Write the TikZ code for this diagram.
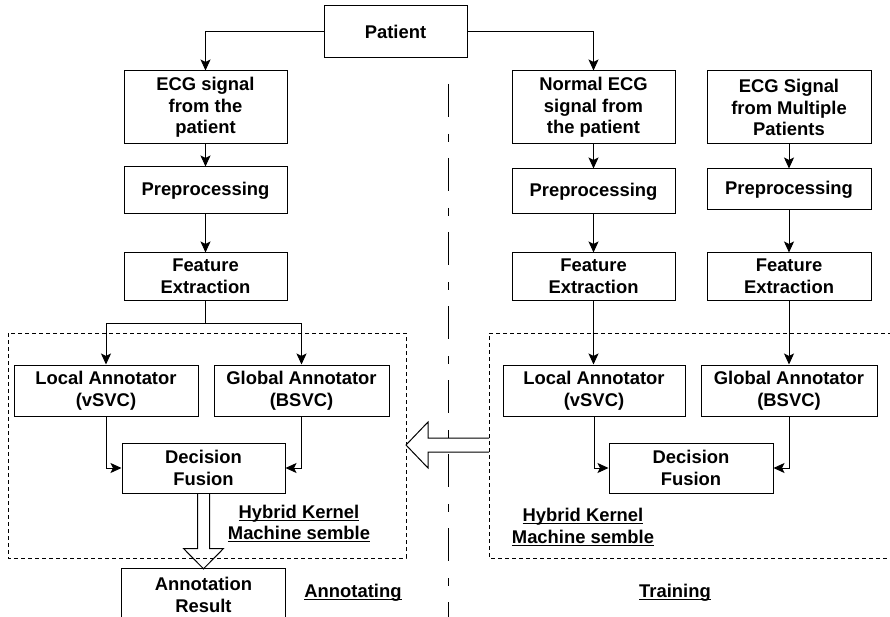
\documentclass[tikz,border=0pt]{standalone}
\usepackage{fontspec}
\setmainfont{Liberation Sans}
\usetikzlibrary{arrows.meta,calc}
% underline placed just under the baseline
\newcommand\ulabel[1]{\setbox0\hbox{#1}\rlap{\rule[-2.6pt]{\wd0}{1pt}}\box0}
\begin{document}
\begin{tikzpicture}[x=1pt,y=-1pt,
  font=\bfseries\fontsize{18.4}{21.7}\selectfont,
  box/.style={draw,line width=1pt,align=center,inner sep=0pt},
  lbl/.style={align=center,inner sep=0pt},
  conn/.style={line width=1pt,-{Stealth[length=11pt,width=10pt,inset=2.5pt]}},
  plain/.style={line width=1pt},
  groupbox/.style={line width=0.9pt,dash pattern=on 4pt off 3pt},
  hollow/.style={line width=1pt,line join=miter}]
\useasboundingbox (0,0) rectangle (890,617);

% ---- annotating branch ----
\node[box,minimum width=143,minimum height=52] (patient) at (395.5,32) {Patient};
\node[box,minimum width=163,minimum height=73] (ecg) at (205.5,107.5) {ECG signal\\from the\\patient};
\node[box,minimum width=163,minimum height=47] (pre) at (205.5,190.5) {Preprocessing};
\node[box,minimum width=163,minimum height=47] (fe) at (205.5,276.5) {Feature\\Extraction};
\node[box,minimum width=184,minimum height=51] (la) at (106,390.5) {Local Annotator\\(vSVC)};
\node[box,minimum width=175,minimum height=51] (ga) at (301.5,390.5) {Global Annotator\\(BSVC)};
\node[box,minimum width=163,minimum height=50] (df) at (203.5,468) {Decision\\Fusion};
\node[lbl,minimum width=163,minimum height=52] (res) at (203.5,595) {Annotation\\Result};
\draw[plain] (res.south west) -- (res.north west) -- (res.north east) -- (res.south east);

% ---- training branch ----
\node[box,minimum width=163,minimum height=73] (necg) at (593.5,107.5) {Normal ECG\\signal from\\the patient};
\node[box,minimum width=164,minimum height=73] (mecg) at (789,107.5) {ECG Signal\\from Multiple\\Patients};
\node[box,minimum width=163,minimum height=45] (pre2) at (593.5,191.5) {Preprocessing};
\node[box,minimum width=164,minimum height=41] (pre3) at (789,189.5) {Preprocessing};
\node[box,minimum width=163,minimum height=47] (fe2) at (593.5,276.5) {Feature\\Extraction};
\node[box,minimum width=164,minimum height=47] (fe3) at (789,276.5) {Feature\\Extraction};
\node[box,minimum width=182,minimum height=51] (la2) at (594,390.5) {Local Annotator\\(vSVC)};
\node[box,minimum width=176,minimum height=51] (ga2) at (789,390.5) {Global Annotator\\(BSVC)};
\node[box,minimum width=164,minimum height=50] (df2) at (691,468) {Decision\\Fusion};

% ---- labels ----
\node[lbl] (hk1) at (299,523.5) {\ulabel{Hybrid Kernel}\\\ulabel{Machine semble}};
\node[lbl] (hk2) at (583,527) {\ulabel{Hybrid Kernel}\\\ulabel{Machine semble}};
\node[lbl] (ann) at (353,593) {\ulabel{Annotating}};
\node[lbl] (trn) at (675,593) {\ulabel{Training}};

% ---- group frames and separator ----
\draw[groupbox] (8,333) rectangle (406,558);
\draw[groupbox] (892,333) -- (489,333) -- (489,558) -- (892,558);
\draw[line width=1pt,dash pattern=on 33pt off 17pt on 8pt off 16pt] (448.5,84) -- (448.5,620);

% ---- connectors, annotating side ----
\draw[conn] (patient.west) -| (ecg.north);
\draw[conn] (patient.east) -| (necg.north);
\draw[conn] (ecg.south) -- (pre.north);
\draw[conn] (pre.south) -- (fe.north);
\coordinate (split) at ($(fe.south)+(0,23)$);
\draw[plain] (fe.south) -- (split);
\draw[conn] (split) -| (la.north);
\draw[conn] (split) -| (ga.north);
\draw[conn] (la.south) |- (df.west);
\draw[conn] (ga.south) |- (df.east);

% ---- connectors, training side ----
\draw[conn] (necg.south) -- (pre2.north);
\draw[conn] (pre2.south) -- (fe2.north);
\draw[conn] (mecg.south) -- (pre3.north);
\draw[conn] (pre3.south) -- (fe3.north);
\draw[conn] (fe2.south) -- (fe2.south |- la2.north);
\draw[conn] (fe3.south) -- (fe3.south |- ga2.north);
\draw[conn] (la2.south) |- (df2.west);
\draw[conn] (ga2.south) |- (df2.east);

% ---- hollow arrows ----
\draw[hollow] ($(df.south)+(-6,0)$) -- ++(0,55) -- ++(-14,0) -- (res.north)
  -- ($(df.south)+(20,55)$) -- ++(-14,0) -- ($(df.south)+(6,0)$);
\draw[hollow] (489,438) -- (428,438) -- (428,422) -- (406,445) -- (428,468) -- (428,452) -- (489,452);
\end{tikzpicture}
\end{document}
